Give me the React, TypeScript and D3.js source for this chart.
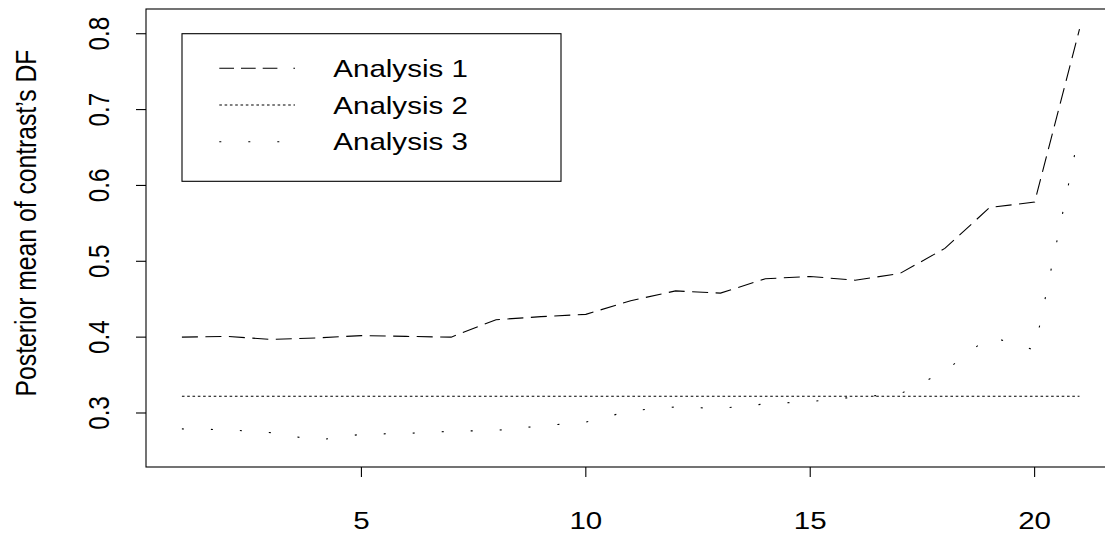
import React from "react";
import * as d3 from "d3";

const indices = [1, 2, 3, 4, 5, 6, 7, 8, 9, 10, 11, 12, 13, 14, 15, 16, 17, 18, 19, 20, 21];
const analysis1 = [0.400, 0.401, 0.397, 0.399, 0.402, 0.401, 0.400, 0.423, 0.427, 0.430, 0.448, 0.461, 0.458, 0.477, 0.480, 0.475, 0.484, 0.517, 0.571, 0.578, 0.806];
const analysis2 = [0.322, 0.322, 0.322, 0.322, 0.322, 0.322, 0.322, 0.322, 0.322, 0.322, 0.322, 0.322, 0.322, 0.322, 0.322, 0.322, 0.322, 0.322, 0.322, 0.322, 0.322];
const analysis3 = [0.279, 0.278, 0.274, 0.264, 0.272, 0.273, 0.276, 0.277, 0.283, 0.288, 0.303, 0.308, 0.306, 0.312, 0.315, 0.321, 0.325, 0.355, 0.401, 0.383, 0.672];
const seriesNames = ["Analysis 1", "Analysis 2", "Analysis 3"];
const xTicks = [5, 10, 15, 20];
const yTicks = [0.3, 0.4, 0.5, 0.6, 0.7, 0.8];
const yLabel = "Posterior mean of contrast\u2019s DF";

const W = 1105;
const H = 533;
const FONT = "'Liberation Sans', Arial, Helvetica, sans-serif";
const FS = 24.2;
const SX = 1.22;

export default function App() {
  const x = d3.scaleLinear().domain([0.2, 21.8]).range([146, 1115.4]);
  const y = d3.scaleLinear().domain([0.2288, 0.8326]).range([467, 9]);
  const line = d3
    .line<number>()
    .x((_, i) => x(indices[i]))
    .y((d) => y(d));

  const series = [
    { name: seriesNames[0], values: analysis1, dash: "16,7.5", legendDash: "14.7,7,14.7,7,14.7,16,2,20" },
    { name: seriesNames[1], values: analysis2, dash: "2.6,2.7", legendDash: "2.6,2.7" },
    { name: seriesNames[2], values: analysis3, dash: "2,27", legendDash: "2,27" },
  ];

  const [x0, x1] = x.range();
  const [yb, yt] = y.range();

  const legend = { left: 182, top: 33.7, right: 561, bottom: 181.3 };
  const legendRowY = [68.3, 105, 141.7];

  return (
    <svg
      width={W}
      height={H}
      style={{ position: "absolute", left: 0, top: 0, background: "#fff" }}
      fontFamily={FONT}
    >
      <rect x={0} y={0} width={W} height={H} fill="#fff" />
      {/* plot box */}
      <rect x={x0} y={yt} width={x1 - x0} height={yb - yt} fill="none" stroke="#000" strokeWidth={1.1} />

      {/* x axis ticks */}
      {xTicks.map((t) => (
        <g key={"xt" + t}>
          <line x1={x(t)} x2={x(t)} y1={yb} y2={yb + 10} stroke="#000" strokeWidth={1.1} />
          <text
            transform={`translate(${x(t)},${528.5}) scale(${SX},1)`}
            textAnchor="middle"
            fontSize={FS}
            fill="#000"
          >
            {t}
          </text>
        </g>
      ))}

      {/* y axis ticks */}
      {yTicks.map((t) => (
        <g key={"yt" + t}>
          <line x1={x0 - 10} x2={x0} y1={y(t)} y2={y(t)} stroke="#000" strokeWidth={1.1} />
          <text
            transform={`translate(108.5,${y(t)}) scale(${SX},1) rotate(-90)`}
            textAnchor="middle"
            fontSize={FS}
            fill="#000"
          >
            {t.toFixed(1)}
          </text>
        </g>
      ))}

      {/* y label */}
      <text
        transform={`translate(35.5,${223}) scale(${SX},1) rotate(-90)`}
        textAnchor="middle"
        fontSize={24.7}
        fill="#000"
      >
        {yLabel}
      </text>

      {/* series */}
      {series.map((s) => (
        <path
          key={s.name}
          d={line(s.values) || ""}
          fill="none"
          stroke="#000"
          strokeWidth={1.1}
          strokeDasharray={s.dash}
        />
      ))}

      {/* legend */}
      <rect
        x={legend.left}
        y={legend.top}
        width={legend.right - legend.left}
        height={legend.bottom - legend.top}
        fill="#fff"
        stroke="#000"
        strokeWidth={1.1}
      />
      {series.map((s, i) => (
        <g key={"lg" + s.name}>
          <line
            x1={219.3}
            x2={295}
            y1={legendRowY[i]}
            y2={legendRowY[i]}
            stroke="#000"
            strokeWidth={1.1}
            strokeDasharray={s.legendDash}
          />
          <text
            transform={`translate(333.3,${legendRowY[i] + 8.7}) scale(${SX},1)`}
            fontSize={FS}
            fill="#000"
          >
            {s.name}
          </text>
        </g>
      ))}
    </svg>
  );
}
